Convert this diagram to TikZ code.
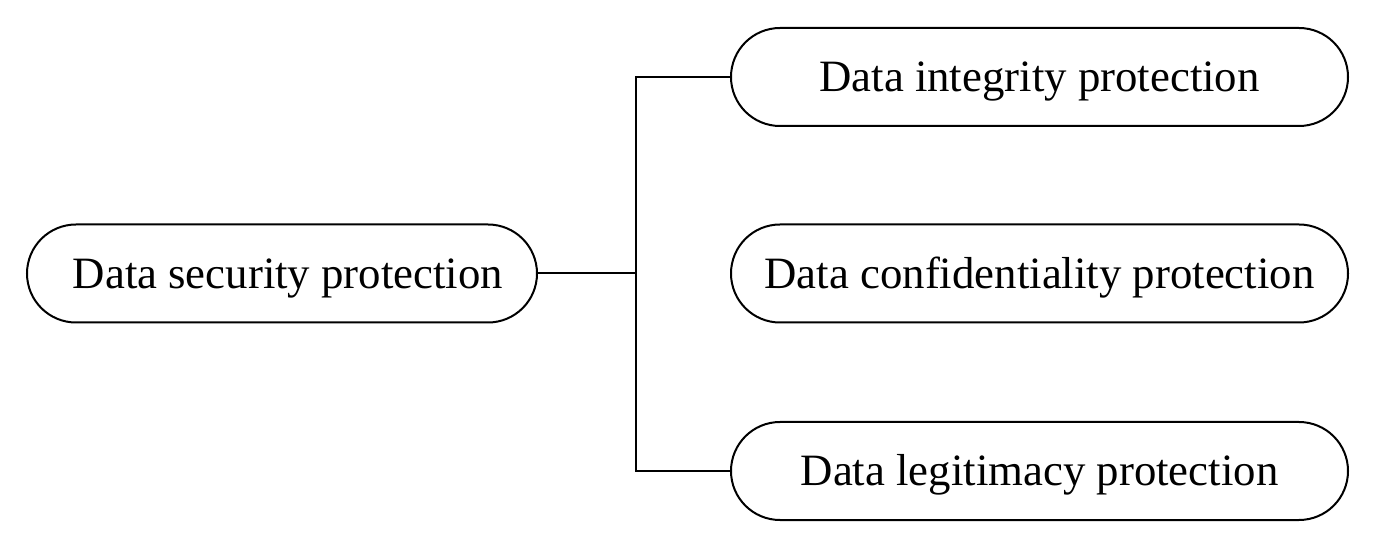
\documentclass[tikz,border=0pt]{standalone}
\usepackage{fontspec}
\setmainfont{Liberation Serif}
\usepackage{tikz}
\usetikzlibrary{positioning, calc}

\begin{document}
\begin{tikzpicture}[x=0.5pt, y=-0.5pt,
		pill/.style={draw, line width=1pt, rounded corners=24.5pt, minimum height=49pt, inner sep=0pt, text height=15pt, text depth=0pt, font=\fontsize{22.4}{26}\selectfont},
		leftpill/.style={pill, minimum width=255pt},
		rightpill/.style={pill, minimum width=308.5pt},
		link/.style={line width=1pt}]
				\useasboundingbox (0,0) rectangle (1388,545);
				\node[leftpill] (security) at (282,273.5) {\hspace*{6pt}Data security protection};
				\node[rightpill] (integrity) at (1039.5,77) {Data integrity protection};
				\node[rightpill] (confidentiality) at (1039.5,273.5) {Data confidentiality protection};
				\node[rightpill] (legitimacy) at (1039.5,471) {Data legitimacy protection};
				\coordinate (split) at (636,273.5);
				\draw[link] (security.east) -- (split);
				\draw[link] (integrity.west) -| (split) |- (legitimacy.west);
			\end{tikzpicture}
\end{document}
